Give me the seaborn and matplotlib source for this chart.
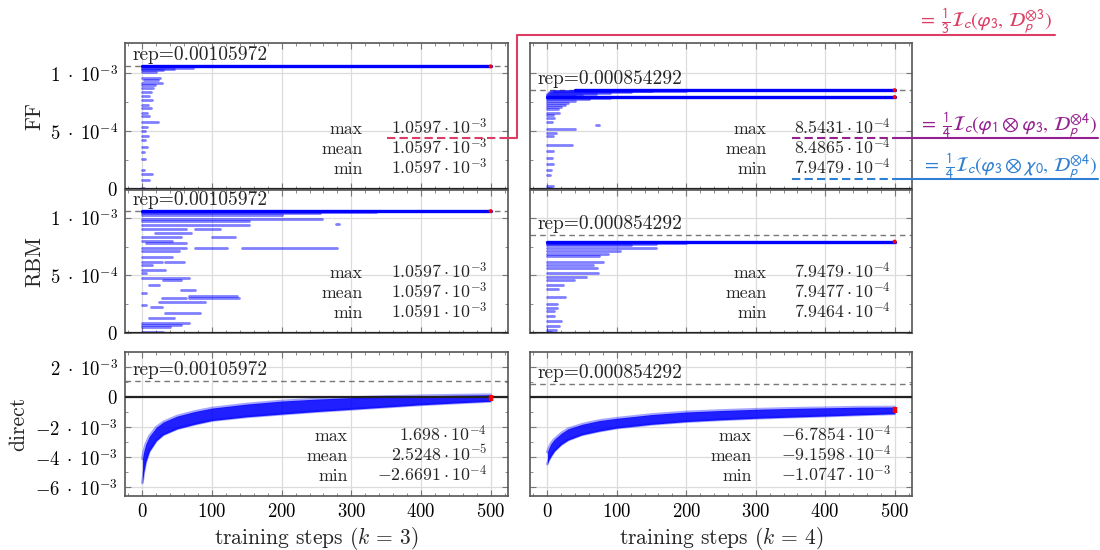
import numpy as np
import pandas as pd
import matplotlib
matplotlib.use("Agg")
import matplotlib.pyplot as plt
import seaborn as sns
from matplotlib.ticker import FixedLocator, MultipleLocator, NullFormatter

sns.set_theme(style="white")
plt.rcParams["font.family"] = ["cmr10", "DejaVu Serif"]
plt.rcParams["mathtext.fontset"] = "cm"
plt.rcParams["axes.unicode_minus"] = False

# ---------------- data ----------------
# converged (final) lines: value (x1e-4), start step
ff3_main_val = [10.597]
ff3_main_x0 = [0]
# transient segments (values x1e-4, start, end step)
ff3_val = [10.45, 10.35, 10.25, 10.15, 9.6, 9.4, 9.2, 9.0, 8.7, 8.4, 8.0, 7.7, 7.3, 7.0,
           6.6, 6.3, 5.8, 5.4, 5.0, 4.6, 4.2, 3.6, 3.2, 2.6, 1.6, 1.3, 0.8, 0.1]
ff3_x0 = [0, 0, 0, 0, 0, 2, 0, 0, 0, 0, 0, 0, 0, 0, 0, 0, 0, 0, 0, 0, 0, 0, 0, 0, 0, 0, 0, 0]
ff3_x1 = [72, 45, 30, 20, 25, 22, 28, 18, 15, 12, 10, 14, 8, 12, 6, 10, 22, 6, 4, 8, 4, 6, 3, 4, 3, 14, 10, 2]

ff4_main_val = [8.5431, 7.9479]
ff4_main_x0 = [40, 0]
ff4_val = [8.50, 8.45, 8.40, 8.30, 8.20, 8.10, 8.00, 7.85, 7.75, 7.6, 7.45, 7.3, 7.1, 6.9, 6.6,
           6.4, 6.1, 5.8, 5.5, 5.2, 4.8, 4.6, 3.8, 3.3, 2.7, 2.2, 1.6, 1.2, 0.3, 0.1]
ff4_x0 = [10, 5, 3, 2, 0, 0, 0, 0, 0, 0, 0, 0, 0, 0, 0, 0, 0, 0, 70, 0, 0, 0, 0, 0, 0, 0, 0, 0, 0, 0]
ff4_x1 = [200, 150, 120, 90, 70, 50, 40, 90, 60, 40, 30, 25, 20, 15, 17, 8, 10, 6, 74, 40, 12, 8, 36, 8, 6, 8, 5, 4, 8, 5]

rbm3_main_val = [10.597]
rbm3_main_x0 = [0]
rbm3_val = [10.5, 10.4, 10.3, 9.9, 9.7, 9.45, 9.4, 9.0, 9.0, 8.7, 8.35, 8.35, 8.0, 7.8, 7.4, 7.4,
            7.4, 7.1, 6.6, 6.2, 6.2, 5.9, 5.5, 5.2, 4.8, 4.6, 4.2, 3.75, 3.5, 3.2, 3.0, 3.0,
            2.7, 2.45, 2.25, 1.75, 1.3, 0.9, 0.7, 0.5, 0.1]
rbm3_x0 = [0, 0, 0, 0, 0, 278, 0, 0, 76, 18, 0, 100, 0, 5, 0, 76, 143, 0, 0, 0, 32, 0, 0, 0, 0,
           29, 9, 55, 0, 67, 28, 67, 24, 0, 12, 33, 10, 0, 0, 0, 0]
rbm3_x1 = [335, 255, 200, 258, 153, 282, 153, 62, 112, 70, 55, 133, 43, 62, 62, 122, 279, 52, 43,
           28, 60, 14, 33, 5, 67, 55, 24, 76, 5, 136, 62, 138, 90, 5, 28, 83, 45, 67, 55, 40, 30]

rbm4_main_val = [7.9479]
rbm4_main_x0 = [0]
rbm4_val = [7.85, 7.75, 7.65, 7.4, 7.1, 6.9, 6.7, 6.2, 5.9, 5.65, 5.2, 4.85, 4.6, 4.2, 3.8, 3.1,
            2.5, 2.2, 1.9, 1.5, 1.0, 0.6, 0.3, 0.05]
rbm4_x0 = [0] * 24
rbm4_x1 = [200, 157, 120, 157, 104, 87, 75, 80, 65, 72, 73, 55, 38, 22, 15, 26, 14, 14, 10, 10,
           19, 17, 12, 5]

# direct training: envelope of all runs (x1e-3)
env_steps = [0, 2, 5, 10, 20, 30, 50, 75, 100, 150, 200, 250, 300, 350, 400, 450, 500]
d3_upper = [-4.1, -3.6, -3.1, -2.6, -2.0, -1.65, -1.25, -0.95, -0.72, -0.45, -0.25, -0.12,
            -0.02, 0.05, 0.10, 0.14, 0.17]
d3_lower = [-5.7, -5.0, -4.3, -3.6, -2.9, -2.5, -2.1, -1.8, -1.55, -1.3, -1.12, -0.95, -0.8,
            -0.65, -0.5, -0.38, -0.27]
d4_upper = [-3.65, -3.4, -3.1, -2.8, -2.4, -2.1, -1.8, -1.55, -1.4, -1.15, -0.98, -0.88, -0.8,
            -0.74, -0.7, -0.66, -0.65]
d4_lower = [-4.45, -4.2, -3.95, -3.6, -3.15, -2.85, -2.5, -2.25, -2.05, -1.8, -1.62, -1.5,
            -1.4, -1.32, -1.25, -1.17, -1.1]

rep_vals = [0.00105972, 0.000854292]
rep_strs = ["0.00105972", "0.000854292"]

stat_names = ["max", "mean", "min"]
ff3_stats = [r"$1.0597\cdot10^{-3}$", r"$1.0597\cdot10^{-3}$", r"$1.0597\cdot10^{-3}$"]
ff4_stats = [r"$8.5431\cdot10^{-4}$", r"$8.4865\cdot10^{-4}$", r"$7.9479\cdot10^{-4}$"]
rbm3_stats = [r"$1.0597\cdot10^{-3}$", r"$1.0597\cdot10^{-3}$", r"$1.0591\cdot10^{-3}$"]
rbm4_stats = [r"$7.9479\cdot10^{-4}$", r"$7.9477\cdot10^{-4}$", r"$7.9464\cdot10^{-4}$"]
d3_stats = [r"$1.698\cdot10^{-4}$", r"$2.5248\cdot10^{-5}$", r"$-2.6691\cdot10^{-4}$"]
d4_stats = [r"$-6.7854\cdot10^{-4}$", r"$-9.1598\cdot10^{-4}$", r"$-1.0747\cdot10^{-3}$"]
d3_final = [-2.6691e-4, 1.698e-4]
d4_final = [-1.0747e-3, -6.7854e-4]

row_names = ["FF", "RBM", "direct"]
col_names = [r"training steps ($k\,=\,3$)", r"training steps ($k\,=\,4$)"]
x_ticks = [0, 100, 200, 300, 400, 500]
y_ticks_top = [0, 5e-4, 1e-3]
y_ticklabels_top = [r"$0$", r"$5\;\cdot\;10^{-4}$", r"$1\;\cdot\;10^{-3}$"]
y_ticks_direct = [-6e-3, -4e-3, -2e-3, 0, 2e-3]
y_ticklabels_direct = [r"$-6\;\cdot\;10^{-3}$", r"$-4\;\cdot\;10^{-3}$",
                       r"$-2\;\cdot\;10^{-3}$", r"$0$", r"$2\;\cdot\;10^{-3}$"]

# ---------------- layout ----------------
W, H = 1100, 550
fig = plt.figure(figsize=(11, 5.5), dpi=100)


def axpos(l, t, r, b):
    return [l / W, 1 - b / H, (r - l) / W, (b - t) / H]


cols = [(125, 508), (530, 912)]
rows = [(43, 189), (190, 333), (352, 496)]
ylims = [(0, 1.262e-3), (0, 1.243e-3), (-6.58e-3, 3.02e-3)]

BLUE = "#0000ff"
axes = [[None, None] for _ in range(3)]


def draw_segments(ax, vals, x0, x1, main_vals, main_x0):
    n = len(vals)
    df = pd.DataFrame({
        "run": np.repeat(np.arange(n), 2),
        "step": np.ravel(np.column_stack([x0, x1])),
        "val": np.repeat(np.array(vals) * 1e-4, 2),
    })
    sns.lineplot(data=df, x="step", y="val", units="run", estimator=None, color=BLUE,
                 alpha=0.5, lw=2.0, ax=ax, legend=False, zorder=3)
    m = len(main_vals)
    dm = pd.DataFrame({
        "run": np.repeat(np.arange(m), 2),
        "step": np.ravel(np.column_stack([main_x0, [500] * m])),
        "val": np.repeat(np.array(main_vals) * 1e-4, 2),
    })
    sns.lineplot(data=dm, x="step", y="val", units="run", estimator=None, color=BLUE,
                 alpha=1.0, lw=2.4, ax=ax, legend=False, zorder=4)
    sns.scatterplot(x=[500] * m, y=np.array(main_vals) * 1e-4, color="red", s=8,
                    edgecolor="none", ax=ax, zorder=5, legend=False)


def draw_band(ax, upper, lower, final):
    st = np.array(env_steps)
    up = np.array(upper) * 1e-3
    lo = np.array(lower) * 1e-3
    ax.fill_between(st, lo, up, color=BLUE, alpha=0.88, lw=0, zorder=3)
    env = pd.DataFrame({"step": np.concatenate([st, st]),
                        "val": np.concatenate([up, lo]),
                        "edge": ["u"] * len(st) + ["l"] * len(st)})
    sns.lineplot(data=env, x="step", y="val", units="edge", estimator=None, color=BLUE,
                 alpha=0.35, lw=2.0, ax=ax, legend=False, zorder=3)
    ax.plot([500, 500], final, color="red", lw=3.2, solid_capstyle="butt", zorder=5)


for r in range(3):
    for c in range(2):
        l, rr = cols[c]
        t, b = rows[r]
        ax = fig.add_axes(axpos(l, t, rr, b))
        axes[r][c] = ax

data_map = {
    (0, 0): (ff3_val, ff3_x0, ff3_x1, ff3_main_val, ff3_main_x0, ff3_stats),
    (0, 1): (ff4_val, ff4_x0, ff4_x1, ff4_main_val, ff4_main_x0, ff4_stats),
    (1, 0): (rbm3_val, rbm3_x0, rbm3_x1, rbm3_main_val, rbm3_main_x0, rbm3_stats),
    (1, 1): (rbm4_val, rbm4_x0, rbm4_x1, rbm4_main_val, rbm4_main_x0, rbm4_stats),
}

for r in range(3):
    for c in range(2):
        ax = axes[r][c]
        if r < 2:
            vals, x0, x1, mv, mx0, stats = data_map[(r, c)]
            draw_segments(ax, vals, x0, x1, mv, mx0)
        else:
            if c == 0:
                draw_band(ax, d3_upper, d3_lower, d3_final)
                stats = d3_stats
            else:
                draw_band(ax, d4_upper, d4_lower, d4_final)
                stats = d4_stats

        ax.set_xlim(-25, 525)
        ax.set_ylim(*ylims[r])
        ax.set_xlabel("")
        ax.set_ylabel("")
        ax.set_facecolor("white")
        # grid & ticks
        ax.xaxis.set_major_locator(FixedLocator(x_ticks))
        ax.xaxis.set_minor_locator(MultipleLocator(20))
        if r < 2:
            ax.yaxis.set_major_locator(FixedLocator(y_ticks_top))
            ax.yaxis.set_minor_locator(FixedLocator([2.5e-4, 7.5e-4]))
        else:
            ax.yaxis.set_major_locator(FixedLocator(y_ticks_direct))
            ax.yaxis.set_minor_locator(FixedLocator([-5e-3, -3e-3, -1e-3, 1e-3]))
        ax.grid(True, which="major", color="#dcdcdc", lw=0.9, zorder=0)
        ax.set_axisbelow(True)
        ax.tick_params(which="both", direction="in", top=True, right=True, bottom=True,
                       left=True, color="#777777", labelsize=13.5, labelcolor="black")
        ax.tick_params(which="major", length=4.5, width=0.8, pad=5)
        ax.tick_params(which="minor", length=2.5, width=0.6)
        if c == 0:
            if r < 2:
                ax.set_yticklabels(y_ticklabels_top)
            else:
                ax.set_yticklabels(y_ticklabels_direct)
        else:
            ax.yaxis.set_major_formatter(NullFormatter())
        if r == 2:
            ax.set_xticklabels([f"${v}$" for v in x_ticks])
            ax.set_xlabel(col_names[c], fontsize=15.5, labelpad=3)
        else:
            ax.xaxis.set_major_formatter(NullFormatter())
        for s in ax.spines.values():
            s.set_color("#555555")
            s.set_linewidth(1.2)

        # zero line and rep line
        ax.axhline(0, color="#222222", lw=1.6, zorder=4)
        ax.axhline(rep_vals[c], color="#777777", lw=1.0, ls=(0, (4, 3)), zorder=2)
        ax.annotate(f"rep={rep_strs[c]}", xy=(0, rep_vals[c]),
                    xycoords=("axes fraction", "data"), xytext=(8, 2),
                    textcoords="offset pixels", ha="left", va="bottom", fontsize=14,
                    zorder=6)
        # stats table
        lab_off = 160 if r == 2 else 145
        for i, (nm, sv) in enumerate(zip(stat_names, stats)):
            dy = 55 - 20 * i
            ax.annotate(nm, xy=(1, 0), xycoords="axes fraction", xytext=(-lab_off, dy),
                        textcoords="offset pixels", ha="right", va="baseline",
                        fontsize=12.8, zorder=6)
            ax.annotate(sv, xy=(1, 0), xycoords="axes fraction", xytext=(-21, dy),
                        textcoords="offset pixels", ha="right", va="baseline",
                        fontsize=12.8, zorder=6)

# row labels
fig.text(35 / W, 1 - 116 / H, row_names[0], rotation=90, ha="center", va="center", fontsize=15.5)
fig.text(35 / W, 1 - 261 / H, row_names[1], rotation=90, ha="center", va="center", fontsize=15.5)
fig.text(18 / W, 1 - 424 / H, row_names[2], rotation=90, ha="center", va="center", fontsize=15.5)

# annotation overlay
ov = fig.add_axes([0, 0, 1, 1], facecolor="none")
ov.set_xlim(0, W)
ov.set_ylim(H, 0)
ov.axis("off")
PINK = "#dc3d64"
PURPLE = "#94208f"
LBLUE = "#2f7fd2"
dash = (0, (4, 2))
ov.plot([387, 508], [138, 138], color=PINK, lw=1.5, ls=dash)
ov.plot([508, 517, 517, 1055], [138, 138, 35, 35], color=PINK, lw=1.5)
ov.plot([792, 895], [138, 138], color=PURPLE, lw=1.5, ls=dash)
ov.plot([895, 1098], [138, 138], color=PURPLE, lw=1.5)
ov.plot([792, 895], [179, 179], color=LBLUE, lw=1.5, ls=dash)
ov.plot([895, 1098], [179, 179], color=LBLUE, lw=1.5)
ov.text(1052, 26, r"$=\ \frac{1}{3}\mathcal{I}_c(\varphi_3,\,\mathcal{D}_p^{\otimes 3})$",
        ha="right", va="baseline", color=PINK, fontsize=14.5, math_fontfamily="stixsans")
ov.text(1097, 130, r"$=\ \frac{1}{4}\mathcal{I}_c(\varphi_1\otimes\varphi_3,\,\mathcal{D}_p^{\otimes 4})$",
        ha="right", va="baseline", color=PURPLE, fontsize=14.5, math_fontfamily="stixsans")
ov.text(1097, 171, r"$=\ \frac{1}{4}\mathcal{I}_c(\varphi_3\otimes\chi_0,\,\mathcal{D}_p^{\otimes 4})$",
        ha="right", va="baseline", color=LBLUE, fontsize=14.5, math_fontfamily="stixsans")

fig.savefig("out.png", dpi=100)
